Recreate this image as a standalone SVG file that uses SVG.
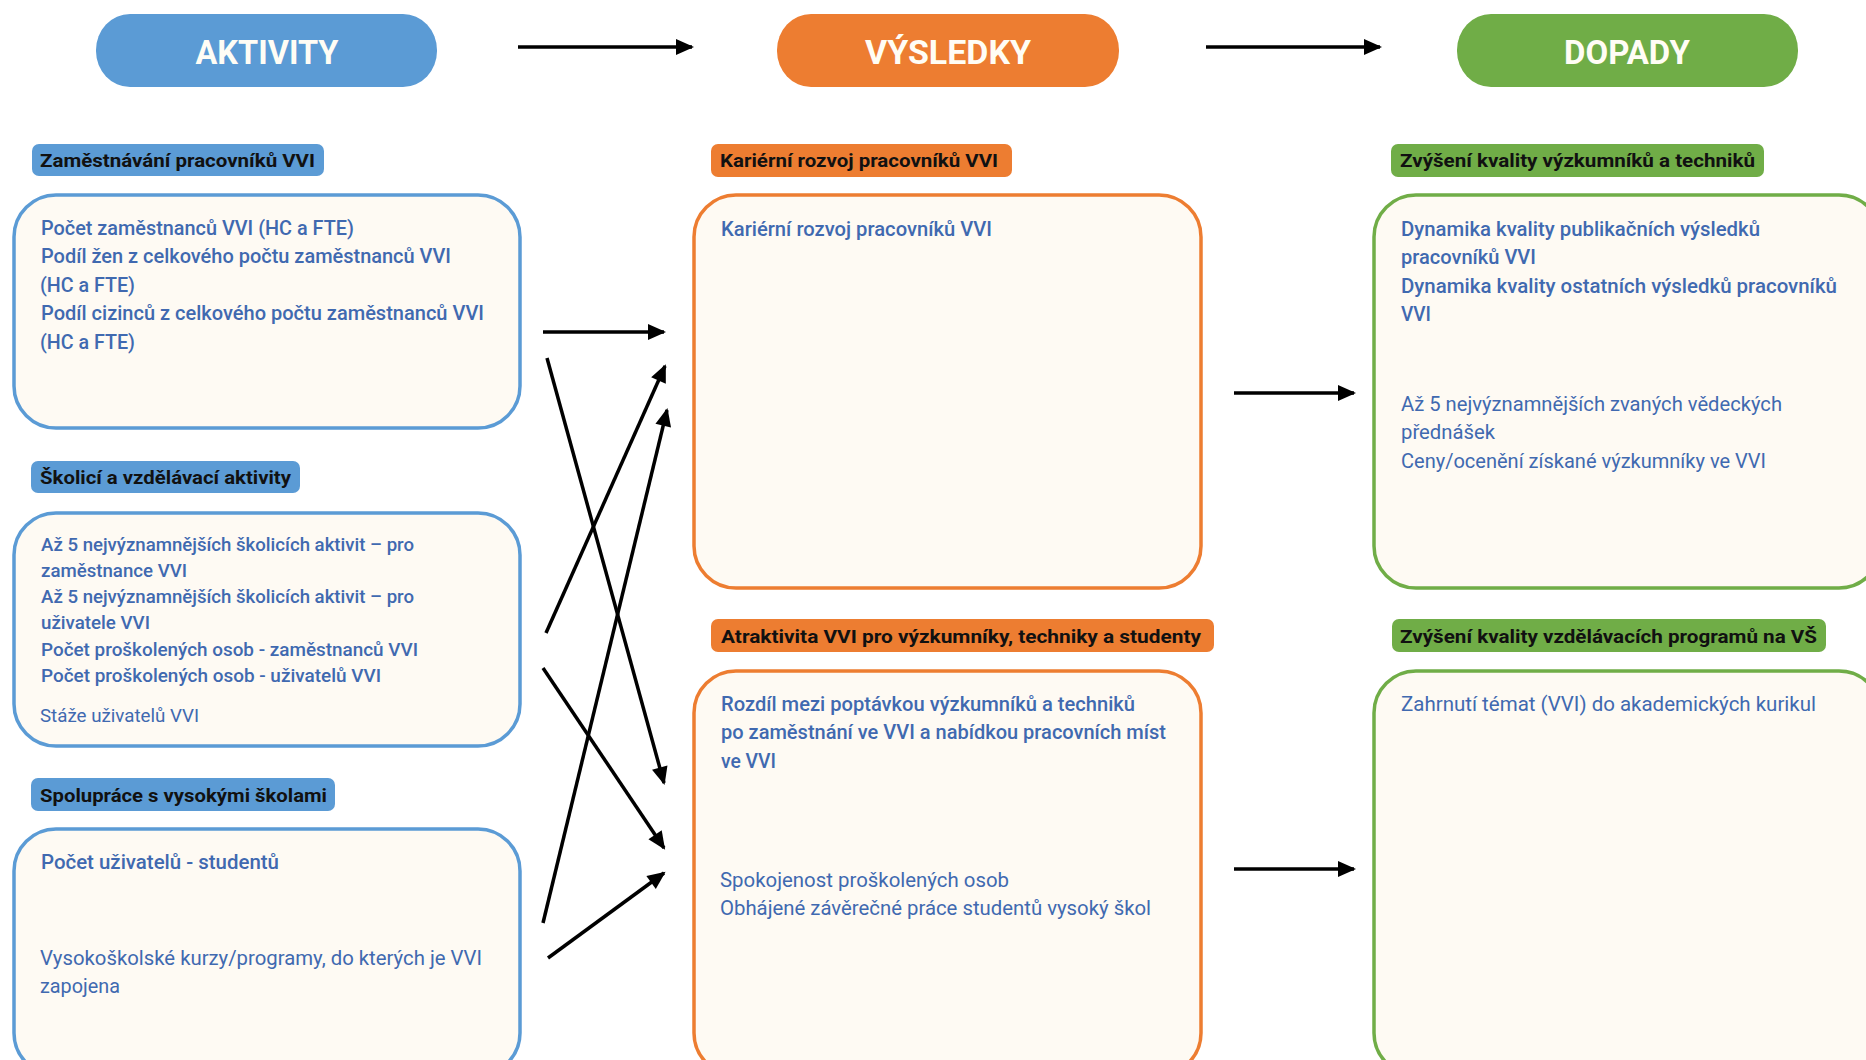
<svg xmlns="http://www.w3.org/2000/svg" width="1866" height="1060" viewBox="0 0 1866 1060">
<style>
.pill-t{font-family:Roboto,"Liberation Sans",sans-serif;font-weight:700;font-size:34px;fill:#FFFDF5;text-anchor:middle}
.tag-t{font-family:Roboto,"Liberation Sans",sans-serif;font-weight:700;font-size:19px;fill:#111}
.box{fill:#FEFAF3;stroke-width:3.5}
.b{stroke:#5B9BD5}.o{stroke:#ED7D31}.g{stroke:#70AD47}
.tb{fill:#5B9BD5}.to{fill:#ED7D31}.tg{fill:#70AD47}
.tx{font-family:Roboto,"Liberation Sans",sans-serif;font-size:20px;fill:#4069B0}
.m{font-weight:500}.r{font-weight:400}
.s18{font-size:19px}
.conn line{stroke:#000;stroke-width:3.5;fill:none}
</style>
<defs>
<marker id="ah" markerUnits="userSpaceOnUse" markerWidth="20" markerHeight="18" refX="17" refY="9" orient="auto">
<path d="M1,1 L19,9 L1,17 z" fill="#000"/>
</marker>
</defs>
<rect width="1866" height="1060" fill="#FFFFFF"/>

<g id="hdr-aktivity">
<rect x="96" y="14" width="341" height="73" rx="34" ry="36" fill="#5B9BD5"/>
<text class="pill-t" x="267" y="64" textLength="143" lengthAdjust="spacingAndGlyphs">AKTIVITY</text>
</g>
<g id="hdr-vysledky">
<rect x="777" y="14" width="342" height="73" rx="34" ry="36" fill="#ED7D31"/>
<text class="pill-t" x="948" y="64" textLength="166" lengthAdjust="spacingAndGlyphs">VÝSLEDKY</text>
</g>
<g id="hdr-dopady">
<rect x="1457" y="14" width="341" height="73" rx="34" ry="36" fill="#70AD47"/>
<text class="pill-t" x="1627" y="64" textLength="126" lengthAdjust="spacingAndGlyphs">DOPADY</text>
</g>

<g id="n-zamestnavani">
<rect class="tb" x="32" y="144" width="292" height="32" rx="7"/>
<text class="tag-t" x="40" y="167" textLength="275" lengthAdjust="spacingAndGlyphs">Zaměstnávání pracovníků VVI</text>
<rect class="box b" x="14" y="195" width="506" height="233" rx="42"/>
<text class="tx m" x="41" y="235" textLength="313" lengthAdjust="spacingAndGlyphs">Počet zaměstnanců VVI (HC a FTE)</text>
<text class="tx m" x="41" y="263" textLength="410" lengthAdjust="spacingAndGlyphs">Podíl žen z celkového počtu zaměstnanců VVI</text>
<text class="tx m" x="40" y="292" textLength="95" lengthAdjust="spacingAndGlyphs">(HC a FTE)</text>
<text class="tx m" x="41" y="320" textLength="443" lengthAdjust="spacingAndGlyphs">Podíl cizinců z celkového počtu zaměstnanců VVI</text>
<text class="tx m" x="40" y="349" textLength="95" lengthAdjust="spacingAndGlyphs">(HC a FTE)</text>
</g>

<g id="n-skolici">
<rect class="tb" x="31" y="461" width="269" height="32" rx="7"/>
<text class="tag-t" x="40" y="484" textLength="251" lengthAdjust="spacingAndGlyphs">Školicí a vzdělávací aktivity</text>
<rect class="box b" x="14" y="513" width="506" height="233" rx="42"/>
<text class="tx m s18" x="41" y="551" textLength="373" lengthAdjust="spacingAndGlyphs">Až 5 nejvýznamnějších školicích aktivit – pro</text>
<text class="tx m s18" x="41" y="577" textLength="146" lengthAdjust="spacingAndGlyphs">zaměstnance VVI</text>
<text class="tx m s18" x="41" y="603" textLength="373" lengthAdjust="spacingAndGlyphs">Až 5 nejvýznamnějších školicích aktivit – pro</text>
<text class="tx m s18" x="41" y="629" textLength="109" lengthAdjust="spacingAndGlyphs">uživatele VVI</text>
<text class="tx m s18" x="41" y="656" textLength="377" lengthAdjust="spacingAndGlyphs">Počet proškolených osob - zaměstnanců VVI</text>
<text class="tx m s18" x="41" y="682" textLength="340" lengthAdjust="spacingAndGlyphs">Počet proškolených osob - uživatelů VVI</text>
<text class="tx r s18" x="40" y="722" textLength="159" lengthAdjust="spacingAndGlyphs">Stáže uživatelů VVI</text>
</g>

<g id="n-spoluprace">
<rect class="tb" x="31" y="778" width="304" height="33" rx="7"/>
<text class="tag-t" x="40" y="802" textLength="287" lengthAdjust="spacingAndGlyphs">Spolupráce s vysokými školami</text>
<rect class="box b" x="14" y="829" width="506" height="246" rx="42"/>
<text class="tx m" x="41" y="869" textLength="238" lengthAdjust="spacingAndGlyphs">Počet uživatelů - studentů</text>
<text class="tx r" x="40" y="965" textLength="442" lengthAdjust="spacingAndGlyphs">Vysokoškolské kurzy/programy, do kterých je VVI</text>
<text class="tx r" x="40" y="993" textLength="80" lengthAdjust="spacingAndGlyphs">zapojena</text>
</g>

<g id="n-karierni">
<rect class="to" x="711" y="144" width="301" height="33" rx="7"/>
<text class="tag-t" x="720" y="167" textLength="278" lengthAdjust="spacingAndGlyphs">Kariérní rozvoj pracovníků VVI</text>
<rect class="box o" x="694" y="195" width="507" height="393" rx="42"/>
<text class="tx m" x="721" y="236" textLength="271" lengthAdjust="spacingAndGlyphs">Kariérní rozvoj pracovníků VVI</text>
</g>

<g id="n-atraktivita">
<rect class="to" x="711" y="619" width="503" height="33" rx="7"/>
<text class="tag-t" x="721" y="643" textLength="480" lengthAdjust="spacingAndGlyphs">Atraktivita VVI pro výzkumníky, techniky a studenty</text>
<rect class="box o" x="694" y="671" width="507" height="404" rx="42"/>
<text class="tx m" x="721" y="711" textLength="414" lengthAdjust="spacingAndGlyphs">Rozdíl mezi poptávkou výzkumníků a techniků</text>
<text class="tx m" x="721" y="739" textLength="445" lengthAdjust="spacingAndGlyphs">po zaměstnání ve VVI a nabídkou pracovních míst</text>
<text class="tx m" x="721" y="768" textLength="55" lengthAdjust="spacingAndGlyphs">ve VVI</text>
<text class="tx r" x="720" y="887" textLength="289" lengthAdjust="spacingAndGlyphs">Spokojenost proškolených osob</text>
<text class="tx r" x="720" y="915" textLength="431" lengthAdjust="spacingAndGlyphs">Obhájené závěrečné práce studentů vysoký škol</text>
</g>

<g id="n-kvalita-vyzkumniku">
<rect class="tg" x="1391" y="144" width="373" height="33" rx="7"/>
<text class="tag-t" x="1400" y="167" textLength="355" lengthAdjust="spacingAndGlyphs">Zvýšení kvality výzkumníků a techniků</text>
<rect class="box g" x="1374" y="195" width="507" height="393" rx="42"/>
<text class="tx m" x="1401" y="236" textLength="359" lengthAdjust="spacingAndGlyphs">Dynamika kvality publikačních výsledků</text>
<text class="tx m" x="1401" y="264" textLength="135" lengthAdjust="spacingAndGlyphs">pracovníků VVI</text>
<text class="tx m" x="1401" y="293" textLength="436" lengthAdjust="spacingAndGlyphs">Dynamika kvality ostatních výsledků pracovníků</text>
<text class="tx m" x="1401" y="321" textLength="30" lengthAdjust="spacingAndGlyphs">VVI</text>
<text class="tx r" x="1401" y="411" textLength="381" lengthAdjust="spacingAndGlyphs">Až 5 nejvýznamnějších zvaných vědeckých</text>
<text class="tx r" x="1401" y="439" textLength="94" lengthAdjust="spacingAndGlyphs">přednášek</text>
<text class="tx r" x="1401" y="468" textLength="365" lengthAdjust="spacingAndGlyphs">Ceny/ocenění získané výzkumníky ve VVI</text>
</g>

<g id="n-kvalita-programu">
<rect class="tg" x="1392" y="619" width="434" height="33" rx="7"/>
<text class="tag-t" x="1400" y="643" textLength="417" lengthAdjust="spacingAndGlyphs">Zvýšení kvality vzdělávacích programů na VŠ</text>
<rect class="box g" x="1374" y="671" width="507" height="404" rx="42"/>
<text class="tx r" x="1401" y="711" textLength="415" lengthAdjust="spacingAndGlyphs">Zahrnutí témat (VVI) do akademických kurikul</text>
</g>

<g id="connectors" class="conn">
<line x1="518" y1="47" x2="692" y2="47" marker-end="url(#ah)" stroke-width="4"/>
<line x1="1206" y1="47" x2="1380" y2="47" marker-end="url(#ah)" stroke-width="4"/>
<line x1="543" y1="332" x2="664" y2="332" marker-end="url(#ah)"/>
<line x1="547" y1="358" x2="664" y2="783" marker-end="url(#ah)"/>
<line x1="546" y1="633" x2="665" y2="366" marker-end="url(#ah)"/>
<line x1="543" y1="668" x2="664" y2="848" marker-end="url(#ah)"/>
<line x1="543" y1="923" x2="667" y2="410" marker-end="url(#ah)"/>
<line x1="548" y1="958" x2="664" y2="873" marker-end="url(#ah)"/>
<line x1="1234" y1="393" x2="1354" y2="393" marker-end="url(#ah)"/>
<line x1="1234" y1="869" x2="1354" y2="869" marker-end="url(#ah)"/>
</g>
</svg>
